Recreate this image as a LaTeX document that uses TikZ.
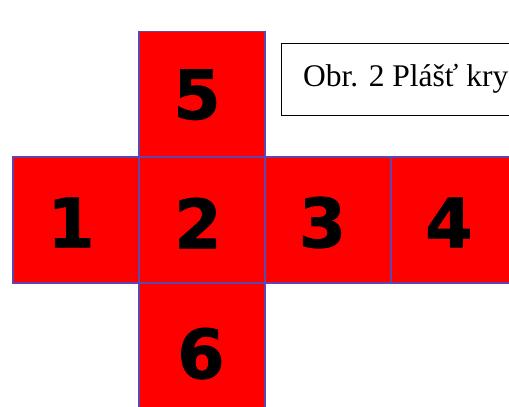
\documentclass[tikz,border=0pt]{standalone}
\usepackage{fontspec}
\setmainfont{Liberation Serif}
\newfontfamily\digitfont[FakeBold=1.2]{DejaVu Sans Bold}
\definecolor{netred}{RGB}{255,0,0}
\definecolor{netedge}{RGB}{95,70,170}
\begin{document}
\begin{tikzpicture}[x=1pt,y=1pt,
  face/.style={rectangle, fill=netred, minimum width=126pt, minimum height=126pt, inner sep=0pt, outer sep=0pt},
  faceedge/.style={draw=netedge, line width=1.2pt},
  num/.style={anchor=base, inner sep=0pt, font=\digitfont\fontsize{68}{68}\selectfont, text=black},
  capbox/.style={draw=black, line width=1.3pt, fill=white}]
\useasboundingbox (0,0) rectangle (509,407);
\clip (0,0) rectangle (509,407);
\fill[white] (0,0) rectangle (509,407);
% faces (centres in px, y flipped)
\node[face] (f5) at (202,{407-94.5}) {};
\node[face] (f1) at (76,{407-220}) {};
\node[face] (f2) at (202,{407-220}) {};
\node[face] (f3) at (328,{407-220}) {};
\node[face] (f4) at (454,{407-220}) {};
\node[face] (f6) at (202,{407-346}) {};
\foreach \f in {f5,f1,f2,f3,f4,f6}
  \draw[faceedge] (\f.north west) rectangle (\f.south east);
% digits
\node[num] (n5) at (197,{407-119}) {5};
\node[num] (n1) at (71,{407-247.3}) {1};
\node[num] (n2) at (198,{407-248.3}) {2};
\node[num] (n3) at (322.5,{407-247.3}) {3};
\node[num] (n4) at (449,{407-247.3}) {4};
\node[num] (n6) at (201,{407-378.3}) {6};
% caption box
\coordinate (cbtl) at (281.5,{407-43.5});
\coordinate (cbbr) at (530,{407-115.5});
\draw[capbox] (cbtl) rectangle (cbbr);
\node[anchor=base west, inner sep=0pt, font=\fontsize{31.5}{31.5}\selectfont] (cap) at (303,{407-86.7}) {Obr. 2 Plášť kry};
\end{tikzpicture}
\end{document}
